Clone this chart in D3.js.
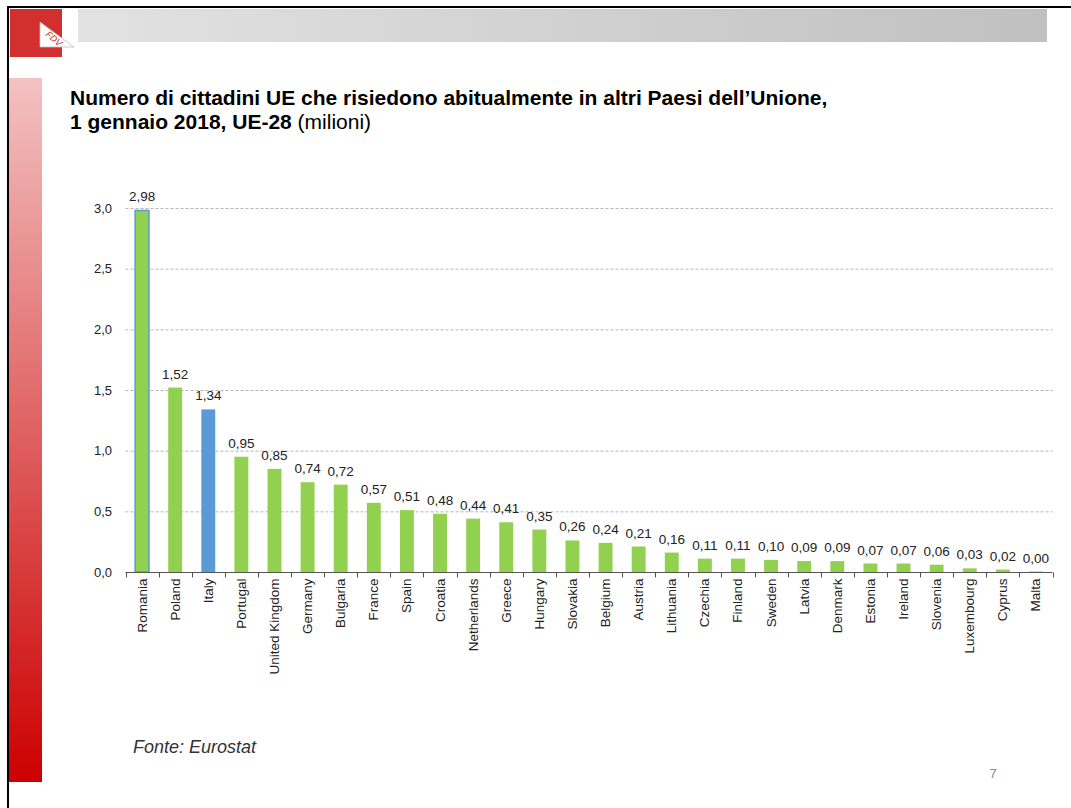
<!DOCTYPE html>
<html><head><meta charset="utf-8">
<script src="https://cdn.jsdelivr.net/npm/d3@7"></script>
<style>body{margin:0;background:#fff}svg{display:block;font-family:"Liberation Sans",Arial,sans-serif}</style>
</head><body><svg id="c" width="1071" height="808"></svg>
<script>
const categories = ["Romania","Poland","Italy","Portugal","United Kingdom","Germany","Bulgaria","France","Spain","Croatia","Netherlands","Greece","Hungary","Slovakia","Belgium","Austria","Lithuania","Czechia","Finland","Sweden","Latvia","Denmark","Estonia","Ireland","Slovenia","Luxembourg","Cyprus","Malta"];
const values = [2.98,1.52,1.34,0.95,0.85,0.74,0.72,0.57,0.51,0.48,0.44,0.41,0.35,0.26,0.24,0.21,0.16,0.11,0.11,0.10,0.09,0.09,0.07,0.07,0.06,0.03,0.02,0.004];
const labels = ["2,98","1,52","1,34","0,95","0,85","0,74","0,72","0,57","0,51","0,48","0,44","0,41","0,35","0,26","0,24","0,21","0,16","0,11","0,11","0,10","0,09","0,09","0,07","0,07","0,06","0,03","0,02","0,00"];
const yTicks = [0,0.5,1.0,1.5,2.0,2.5,3.0];
const yTickLabels = ["0,0","0,5","1,0","1,5","2,0","2,5","3,0"];
const highlight = "Italy";

const svg = d3.select("#c");
const defs = svg.append("defs");
const g1 = defs.append("linearGradient").attr("id","gbar").attr("x1","0").attr("x2","1");
g1.append("stop").attr("offset","0").attr("stop-color","#e2e2e2");
g1.append("stop").attr("offset","1").attr("stop-color","#c0c0c0");
const g2 = defs.append("linearGradient").attr("id","rbar").attr("x1","0").attr("x2","0").attr("y1","0").attr("y2","1");
g2.append("stop").attr("offset","0").attr("stop-color","#f3c2c2");
g2.append("stop").attr("offset","1").attr("stop-color","#cc0000");

// slide frame
svg.append("line").attr("x1",7).attr("x2",1071).attr("y1",7).attr("y2",7).attr("stroke","#000").attr("stroke-width",2);
svg.append("line").attr("x1",8).attr("x2",8).attr("y1",6).attr("y2",808).attr("stroke","#000").attr("stroke-width",2);
// header bar
svg.append("rect").attr("x",78).attr("y",9).attr("width",969).attr("height",33).attr("fill","url(#gbar)");
// logo
svg.append("rect").attr("x",10).attr("y",9).attr("width",52).attr("height",48).attr("fill","#d32f2f");
svg.append("path").attr("d","M40,22 L40,47 L74,47 Z").attr("fill","#fff").attr("stroke","#bbb").attr("stroke-width",0.8);
svg.append("text").attr("x",52).attr("y",41).attr("font-size",9).attr("font-style","italic").attr("fill","#c62828")
  .attr("transform","rotate(40,52,41)").attr("text-anchor","middle").text("FDV");
// left strip
svg.append("rect").attr("x",9).attr("y",78).attr("width",33).attr("height",704).attr("fill","url(#rbar)");

// title
const t = svg.append("text").attr("x",70).attr("y",105).attr("font-size",21).attr("fill","#000");
t.append("tspan").attr("font-weight","bold").text("Numero di cittadini UE che risiedono abitualmente in altri Paesi dell\u2019Unione,");
const t2 = svg.append("text").attr("x",70).attr("y",129).attr("font-size",21).attr("fill","#000");
t2.append("tspan").attr("font-weight","bold").text("1 gennaio 2018, UE-28");
t2.append("tspan").text(" (milioni)");

// chart
const x = d3.scaleBand().domain(categories).range([125.5,1052.5]).paddingInner(0.58).paddingOuter(0.29);
const y = d3.scaleLinear().domain([0,3]).range([572,208]);
const band = d3.scaleBand().domain(categories).range([125.5,1052.5]);

// gridlines
svg.append("g").selectAll("line").data(yTicks.slice(1)).join("line")
  .attr("x1",125.5).attr("x2",1052.5).attr("y1",d=>y(d)+0.5).attr("y2",d=>y(d)+0.5)
  .attr("stroke","#b5b5b5").attr("stroke-dasharray","3,2").attr("stroke-width",1);

// y labels
svg.append("g").selectAll("text").data(yTicks).join("text")
  .attr("x",112).attr("y",d=>y(d)+4.5).attr("text-anchor","end").attr("font-size",13).attr("fill","#222")
  .text((d,i)=>yTickLabels[i]);

// bars
svg.append("g").selectAll("rect").data(categories).join("rect")
  .attr("x",d=>x(d)).attr("width",x.bandwidth())
  .attr("y",(d,i)=>y(values[i])).attr("height",(d,i)=>y(0)-y(values[i]))
  .attr("fill",d=>d===highlight?"#5b9bd5":"#92d050")
  .attr("stroke",(d,i)=>i===0?"#5b9bd5":"none").attr("stroke-width",1.5);

// value labels
svg.append("g").selectAll("text").data(categories).join("text")
  .attr("x",d=>x(d)+x.bandwidth()/2).attr("y",(d,i)=>y(values[i])-9)
  .attr("text-anchor","middle").attr("font-size",13.5).attr("fill","#222")
  .text((d,i)=>labels[i]);

// x axis
const ax = svg.append("g").attr("transform","translate(0,572.5)");
ax.append("line").attr("x1",125.5).attr("x2",1052.5).attr("stroke","#555").attr("stroke-width",1.2);
ax.selectAll("line.tk").data(categories.concat(["_end"])).join("line").attr("class","tk")
  .attr("x1",(d,i)=>Math.round(125.5+i*band.step())+0.5).attr("x2",(d,i)=>Math.round(125.5+i*band.step())+0.5)
  .attr("y1",0).attr("y2",5).attr("stroke","#555");
ax.selectAll("text").data(categories).join("text")
  .attr("transform",d=>`translate(${band(d)+band.bandwidth()/2+4.5},6) rotate(-90)`)
  .attr("text-anchor","end").attr("font-size",13.5).attr("fill","#222").text(d=>d);

// source
svg.append("text").attr("x",133).attr("y",753).attr("font-size",18).attr("font-style","italic").attr("fill","#333").text("Fonte: Eurostat");
svg.append("text").attr("x",993).attr("y",778).attr("font-size",13).attr("fill","#888").attr("text-anchor","middle").text("7");
</script></body></html>
